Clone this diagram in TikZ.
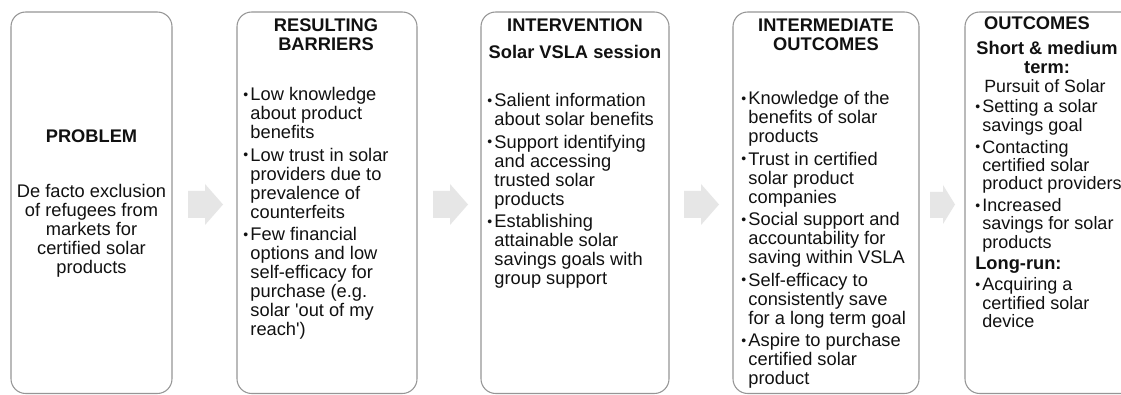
\documentclass[tikz,border=0pt]{standalone}
\usepackage{fontspec}
\setmainfont{Liberation Sans}
\usepackage{array}
\definecolor{boxline}{HTML}{969696}
\definecolor{arrowfill}{HTML}{E6E6E6}
\definecolor{ink}{HTML}{111111}
% small bullet in a fixed-width column
\newcommand{\bul}{\makebox[5.4pt][l]{\raisebox{1.1pt}{\fontsize{10.5pt}{10pt}\selectfont •}}}
\newcommand{\gap}{\\[2.6pt]}
\begin{document}
\begin{tikzpicture}[x=0.75pt,y=-0.75pt,
  panel/.style={draw=boxline,line width=0.8pt,rounded corners=11pt,fill=white},
  flowarrow/.style={fill=arrowfill,draw=none},
  head/.style={inner sep=0pt,anchor=base,text=ink,font=\fontsize{13.7pt}{14.25pt}\selectfont\bfseries},
  body/.style={inner sep=0pt,anchor=base west,text=ink,font=\fontsize{13.7pt}{14.25pt}\selectfont},
  cbody/.style={inner sep=0pt,anchor=base,text=ink,font=\fontsize{13.7pt}{14.25pt}\selectfont}]
\clip (0,0) rectangle (1121,395);
\fill[white] (0,0) rectangle (1121,395);

% panels
\draw[panel] (11,12) rectangle (172,393.5);
\draw[panel] (237,12) rectangle (417,393.5);
\draw[panel] (481,12) rectangle (669,393.5);
\draw[panel] (733,12) rectangle (919,393.5);
\draw[panel] (965,12) rectangle (1140,393.5);

% block arrows between panels
\fill[flowarrow] (188,191) -- (205,191) -- (205,184) -- (223,204.5) -- (205,225) -- (205,218) -- (188,218) -- cycle;
\fill[flowarrow] (433,191) -- (450,191) -- (450,184) -- (468,204.5) -- (450,225) -- (450,218) -- (433,218) -- cycle;
\fill[flowarrow] (684,191) -- (701,191) -- (701,184) -- (719,204.5) -- (701,225) -- (701,218) -- (684,218) -- cycle;
\fill[flowarrow] (930,192) -- (943,192) -- (943,185) -- (955,204.5) -- (943,224) -- (943,218) -- (930,218) -- cycle;

% problem
\node[head] (probhead) at (91.5,143) {PROBLEM};
\node[cbody] (probbody) at (91.5,198) {\begin{tabular}[t]{@{}c@{}}De facto exclusion\\ of refugees from\\ markets for\\ certified solar\\ products\end{tabular}};

% resulting barriers
\node[head] (barhead) at (326,32) {\begin{tabular}[t]{@{}c@{}}RESULTING\\ BARRIERS\end{tabular}};
\node[body] (barbody) at (243,101) {\begin{tabular}[t]{@{}l@{}l@{}}
\bul & Low knowledge\\ & about product\\ & benefits\gap
\bul & Low trust in solar\\ & providers due to\\ & prevalence of\\ & counterfeits\gap
\bul & Few financial\\ & options and low\\ & self-efficacy for\\ & purchase (e.g.\\ & solar \textquotesingle out of my\\ & reach\textquotesingle)
\end{tabular}};

% intervention
\node[head] (inthead) at (575,32) {INTERVENTION};
\node[head] (intsub) at (575,59) {Solar VSLA session};
\node[body] (intbody) at (487,107) {\begin{tabular}[t]{@{}l@{}l@{}}
\bul & Salient information\\ & about solar benefits\gap
\bul & Support identifying\\ & and accessing\\ & trusted solar\\ & products\gap
\bul & Establishing\\ & attainable solar\\ & savings goals with\\ & group support
\end{tabular}};

% intermediate outcomes
\node[head] (midhead) at (826,32) {\begin{tabular}[t]{@{}c@{}}INTERMEDIATE\\ OUTCOMES\end{tabular}};
\node[body] (midbody) at (741,105) {\begin{tabular}[t]{@{}l@{}l@{}}
\bul & Knowledge of the\\ & benefits of solar\\ & products\gap
\bul & Trust in certified\\ & solar product\\ & companies\gap
\bul & Social support and\\ & accountability for\\ & saving within VSLA\gap
\bul & Self-efficacy to\\ & consistently save\\ & for a long term goal\gap
\bul & Aspire to purchase\\ & certified solar\\ & product
\end{tabular}};

% outcomes
\node[head] (outhead) at (1037,30) {OUTCOMES};
\node[head] (outshort) at (1047,55) {\begin{tabular}[t]{@{}c@{}}Short \& medium\\[-0.7pt] term:\end{tabular}};
\node[cbody,font=\fontsize{13.3pt}{13.3pt}\selectfont] (outpursuit) at (1045,93) {Pursuit of Solar};
\node[body,font=\fontsize{13.5pt}{13.2pt}\selectfont] (outbody) at (975,113) {\begin{tabular}[t]{@{}l@{}l@{}}
\bul & Setting a solar\\ & savings goal\gap
\bul & Contacting\\ & certified solar\\ & product providers\gap
\bul & Increased\\ & savings for solar\\ & products
\end{tabular}};
\node[body,font=\fontsize{13.7pt}{13.2pt}\selectfont\bfseries] (outlong) at (975,270) {Long-run:};
\node[body,font=\fontsize{13.5pt}{13.2pt}\selectfont] (outlongbody) at (975,291) {\begin{tabular}[t]{@{}l@{}l@{}}
\bul & Acquiring a\\ & certified solar\\ & device
\end{tabular}};
\end{tikzpicture}
\end{document}
